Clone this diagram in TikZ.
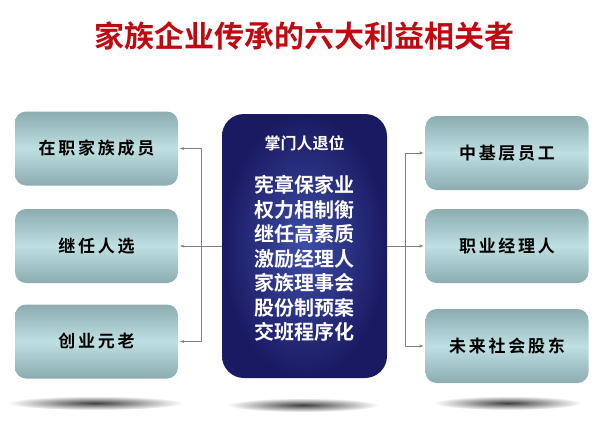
\documentclass[tikz,border=0pt]{standalone}
\usepackage{fontspec}
\setmainfont{Noto Sans CJK SC}[BoldFont={Noto Sans CJK SC Bold}]
\usetikzlibrary{arrows.meta}
\definecolor{titlered}{RGB}{192,8,16}
\definecolor{boxedge}{RGB}{140,172,175}
\definecolor{boxmid}{RGB}{190,224,226}
\definecolor{navyedge}{RGB}{26,26,98}
\definecolor{navymid}{RGB}{62,78,168}
\definecolor{linkgray}{RGB}{128,128,128}
\begin{document}
\begin{tikzpicture}[x=1pt,y=-1pt,
  sidebox/.style={rounded corners=11pt,minimum width=163pt,minimum height=74pt,
    top color=boxedge,bottom color=boxedge,middle color=boxmid,
    font=\bfseries\fontsize{17}{20}\selectfont\addfontfeature{LetterSpace=16}},
  corebox/.style={rounded corners=22pt,minimum width=165pt,minimum height=264pt,
    inner color=navymid,outer color=navyedge},
  link/.style={draw=linkgray,line width=0.8pt},
  arrow/.style={link,-{Stealth[length=4pt,width=3pt]}},
  floor/.style={inner color=black!75,outer color=white}]
\useasboundingbox (0,0) rectangle (615,423);
\node[text=titlered,font=\bfseries\fontsize{30}{34}\selectfont] (title) at (304,36) {家族企业传承的六大利益相关者};
\shade[floor] (95,403) ellipse (88 and 7);
\shade[floor] (303,405) ellipse (76 and 7);
\shade[floor] (508,403) ellipse (74 and 7);
\node[sidebox] (zaizhi) at (96.5,148.5) {在职家族成员};
\node[sidebox] (jiren) at (96.5,246) {继任人选};
\node[sidebox] (yuanlao) at (96.5,341.5) {创业元老};
\node[sidebox] (yuangong) at (507,153) {中基层员工};
\node[sidebox] (jingli) at (507,246) {职业经理人};
\node[sidebox] (gudong) at (507,346) {未来社会股东};
\node[corebox] (core) at (304.5,246) {};
\node[text=white,font=\bfseries\fontsize{16}{18}\selectfont] (tuiwei) at (304.5,143) {掌门人退位};
\node[text=white,align=center,font=\bfseries\fontsize{20}{24.5}\selectfont] (cuoshi) at (304.5,258.5)
  {宪章保家业\\权力相制衡\\继任高素质\\激励经理人\\家族理事会\\股份制预案\\交班程序化};
\coordinate (lj) at (201,246);
\coordinate (rj) at (405,246);
\draw[link] (core.west) -- (lj);
\draw[link] (core.east) -- (rj);
\foreach \b in {zaizhi,jiren,yuanlao}
  \draw[arrow] (lj) |- ([xshift=2pt]\b.east);
\foreach \b in {yuangong,jingli,gudong}
  \draw[arrow] (rj) |- ([xshift=-2pt]\b.west);
\end{tikzpicture}
\end{document}
